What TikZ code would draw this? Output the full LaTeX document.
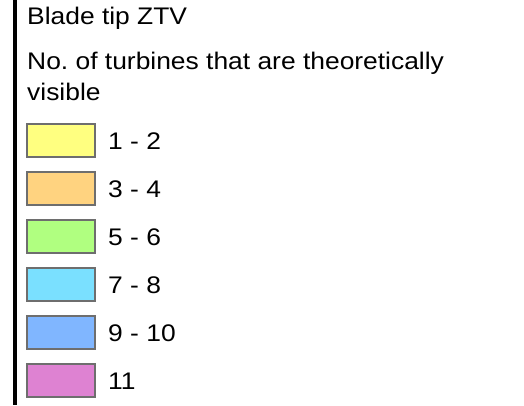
\documentclass[tikz,border=0pt]{standalone}
\usepackage{fontspec}
\setmainfont{Liberation Sans}
\newfontfamily\legendfont[FakeStretch=1.1]{Liberation Sans}
\frenchspacing
\definecolor{ztvyellow}{RGB}{255,255,128}
\definecolor{ztvorange}{RGB}{255,211,128}
\definecolor{ztvgreen}{RGB}{176,255,128}
\definecolor{ztvcyan}{RGB}{122,224,255}
\definecolor{ztvblue}{RGB}{128,182,255}
\definecolor{ztvpink}{RGB}{222,130,210}
\definecolor{ztvedge}{RGB}{110,110,110}
\begin{document}
\begin{tikzpicture}[x=1pt, y=-1pt,
        swatch/.style={draw=ztvedge, line width=2.5pt, minimum width=68pt, minimum height=33pt, inner sep=0pt},
        lbl/.style={anchor=base west, inner sep=0pt, font=\legendfont\fontsize{24}{29}\selectfont}]
            \useasboundingbox (0, 0) rectangle (524, 405);
            \fill[black] (13, 0) rectangle (17, 405);
            \node[lbl] (title) at (27, 24.5) {Blade tip ZTV};
            \node[lbl] (sub1) at (27, 69.5) {No. of turbines that are theoretically};
            \node[lbl] (sub2) at (27, 100) {visible};
            \foreach \c/\t [count=\j from 0] in {ztvyellow/1 - 2, ztvorange/3 - 4, ztvgreen/5 - 6, ztvcyan/7 - 8, ztvblue/9 - 10, ztvpink/11} {
                \node[swatch, fill=\c] (box\j) at (61, 140.5+\j*48) {};
                \node[lbl] (val\j) at (108, 149.5+\j*48) {\t};
            }
        \end{tikzpicture}
\end{document}
